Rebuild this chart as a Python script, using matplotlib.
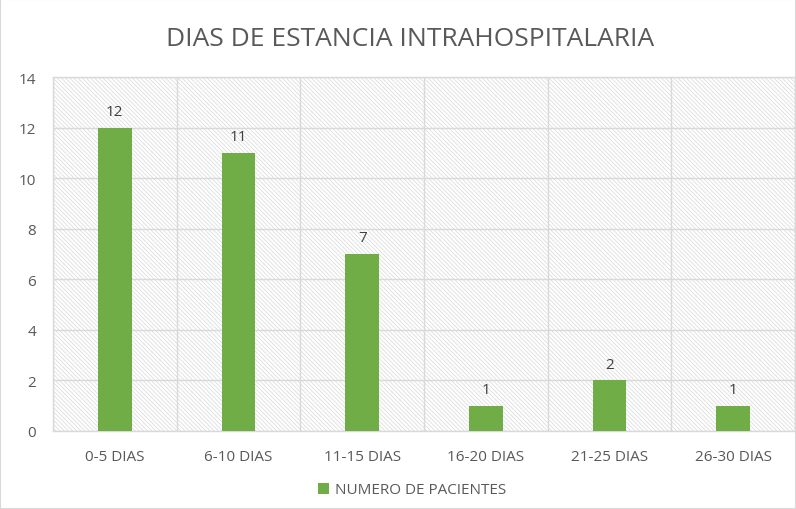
import matplotlib.pyplot as plt
from matplotlib.patches import Rectangle

categories = ["0-5 DIAS", "6-10 DIAS", "11-15 DIAS", "16-20 DIAS", "21-25 DIAS", "26-30 DIAS"]
pacientes = [12, 11, 7, 1, 2, 1]
series_name = "NUMERO DE PACIENTES"

plt.rcParams['font.family'] = ['Open Sans', 'DejaVu Sans']
plt.rcParams['hatch.color'] = '#dedede'
plt.rcParams['hatch.linewidth'] = 0.6

green = "#70ad47"
grid = "#d9d9d9"
text_col = "#595959"

fig = plt.figure(figsize=(7.96, 5.10), dpi=100)
ax = fig.add_axes([53 / 796, 78 / 510, 742 / 796, 354 / 510])

# hatched plot-area background
ax.add_patch(Rectangle((0, 0), 1, 1, transform=ax.transAxes, facecolor="white",
                       edgecolor="#dedede", linewidth=0, hatch="\\\\\\\\\\\\\\\\", zorder=0))

x = range(len(categories))
bars = ax.bar(x, pacientes, width=0.27, color=green, zorder=3, label=series_name)
for xi, v in zip(x, pacientes):
    ax.text(xi, v + 0.35, str(v), ha="center", va="bottom", fontsize=11, color="#404040", zorder=4)

ax.set_xlim(-0.5, len(categories) - 0.5)
ax.set_ylim(0, 14)
ax.set_yticks(range(0, 15, 2))
ax.set_xticks(list(x))
ax.set_xticklabels(categories)
ax.set_xticks([i + 0.5 for i in range(-1, len(categories))], minor=True)
ax.grid(axis="y", color=grid, linewidth=1, zorder=1)
ax.grid(axis="x", which="minor", color=grid, linewidth=1, zorder=1)
ax.tick_params(axis="both", which="both", length=0, labelsize=11, labelcolor=text_col)
ax.tick_params(axis="x", pad=13)
ax.tick_params(axis="y", pad=12)
for s in ax.spines.values():
    s.set_color(grid)
    s.set_linewidth(1)

fig.text(410 / 796, 1 - 40 / 510, "DIAS DE ESTANCIA INTRAHOSPITALARIA", ha="center", va="center",
         fontsize=19, color=text_col)

fig.legend(handles=[bars], labels=[series_name], loc="center", bbox_to_anchor=(412 / 796, 1 - 491 / 510),
           frameon=False, fontsize=11, labelcolor=text_col, handlelength=0.7, handleheight=0.7,
           handletextpad=0.4)

fig.patches.append(Rectangle((0, 0), 1, 1, transform=fig.transFigure, fill=False,
                             edgecolor=grid, linewidth=1.5))

plt.savefig("out.png", dpi=100)
plt.close()
